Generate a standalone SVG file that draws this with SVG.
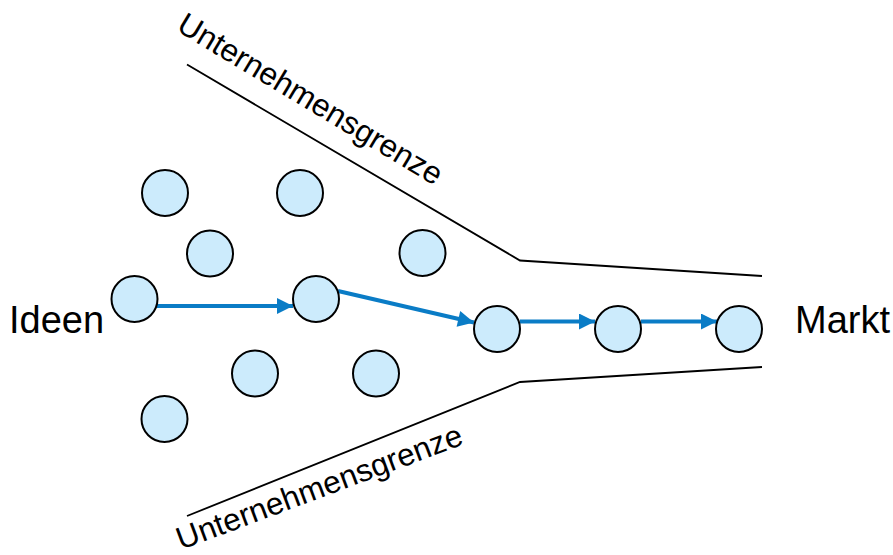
<svg xmlns="http://www.w3.org/2000/svg" width="893" height="555" viewBox="0 0 893 555">
<style>
.n{fill:#CCEBFC;stroke:#000;stroke-width:2}
.b{fill:none;stroke:#000;stroke-width:1.8}
.a{stroke:#0A7CC6;stroke-width:4;fill:none}
.t{font-family:"Liberation Sans",Arial,sans-serif;fill:#000}
</style>
<defs>
<marker id="ah" viewBox="0 0 10 10" refX="10" refY="5" markerWidth="4.5" markerHeight="4" orient="auto" markerUnits="strokeWidth">
<path d="M0,0 L10,5 L0,10 z" fill="#0A7CC6"/>
</marker>
</defs>
<rect width="893" height="555" fill="#fff"/>
<g id="boundaries">
<polyline class="b" points="187,64.5 520,260.5 762,276"/>
<polyline class="b" points="187,516 520,382 762,367"/>
</g>
<text class="t" font-size="31.5" text-anchor="middle" transform="translate(305,108) rotate(31)">Unternehmensgrenze</text>
<text class="t" font-size="31.5" text-anchor="middle" transform="translate(323,497) rotate(-20.5)">Unternehmensgrenze</text>
<text class="t" font-size="38" x="9" y="333">Ideen</text>
<text class="t" font-size="38" x="795" y="333">Markt</text>
<g id="connectors">
<line class="a" x1="157" y1="306" x2="293" y2="306" marker-end="url(#ah)"/>
<line class="a" x1="338" y1="291" x2="474" y2="322.5" marker-end="url(#ah)"/>
<line class="a" x1="520" y1="321.5" x2="595" y2="321.5" marker-end="url(#ah)"/>
<line class="a" x1="641" y1="321.5" x2="717" y2="321.5" marker-end="url(#ah)"/>
</g>
<g id="n1"><circle class="n" cx="165" cy="193" r="23"/></g>
<g id="n2"><circle class="n" cx="300" cy="193" r="23"/></g>
<g id="n3"><circle class="n" cx="210" cy="253.5" r="23"/></g>
<g id="n4"><circle class="n" cx="422.5" cy="253" r="23"/></g>
<g id="n5"><circle class="n" cx="134.5" cy="299" r="23"/></g>
<g id="n6"><circle class="n" cx="316" cy="299" r="23"/></g>
<g id="n7"><circle class="n" cx="497" cy="329" r="23"/></g>
<g id="n8"><circle class="n" cx="618" cy="329" r="23"/></g>
<g id="n9"><circle class="n" cx="739" cy="329" r="23"/></g>
<g id="n10"><circle class="n" cx="255" cy="373.5" r="23"/></g>
<g id="n11"><circle class="n" cx="376" cy="373.5" r="23"/></g>
<g id="n12"><circle class="n" cx="164.5" cy="419" r="23"/></g>
</svg>
